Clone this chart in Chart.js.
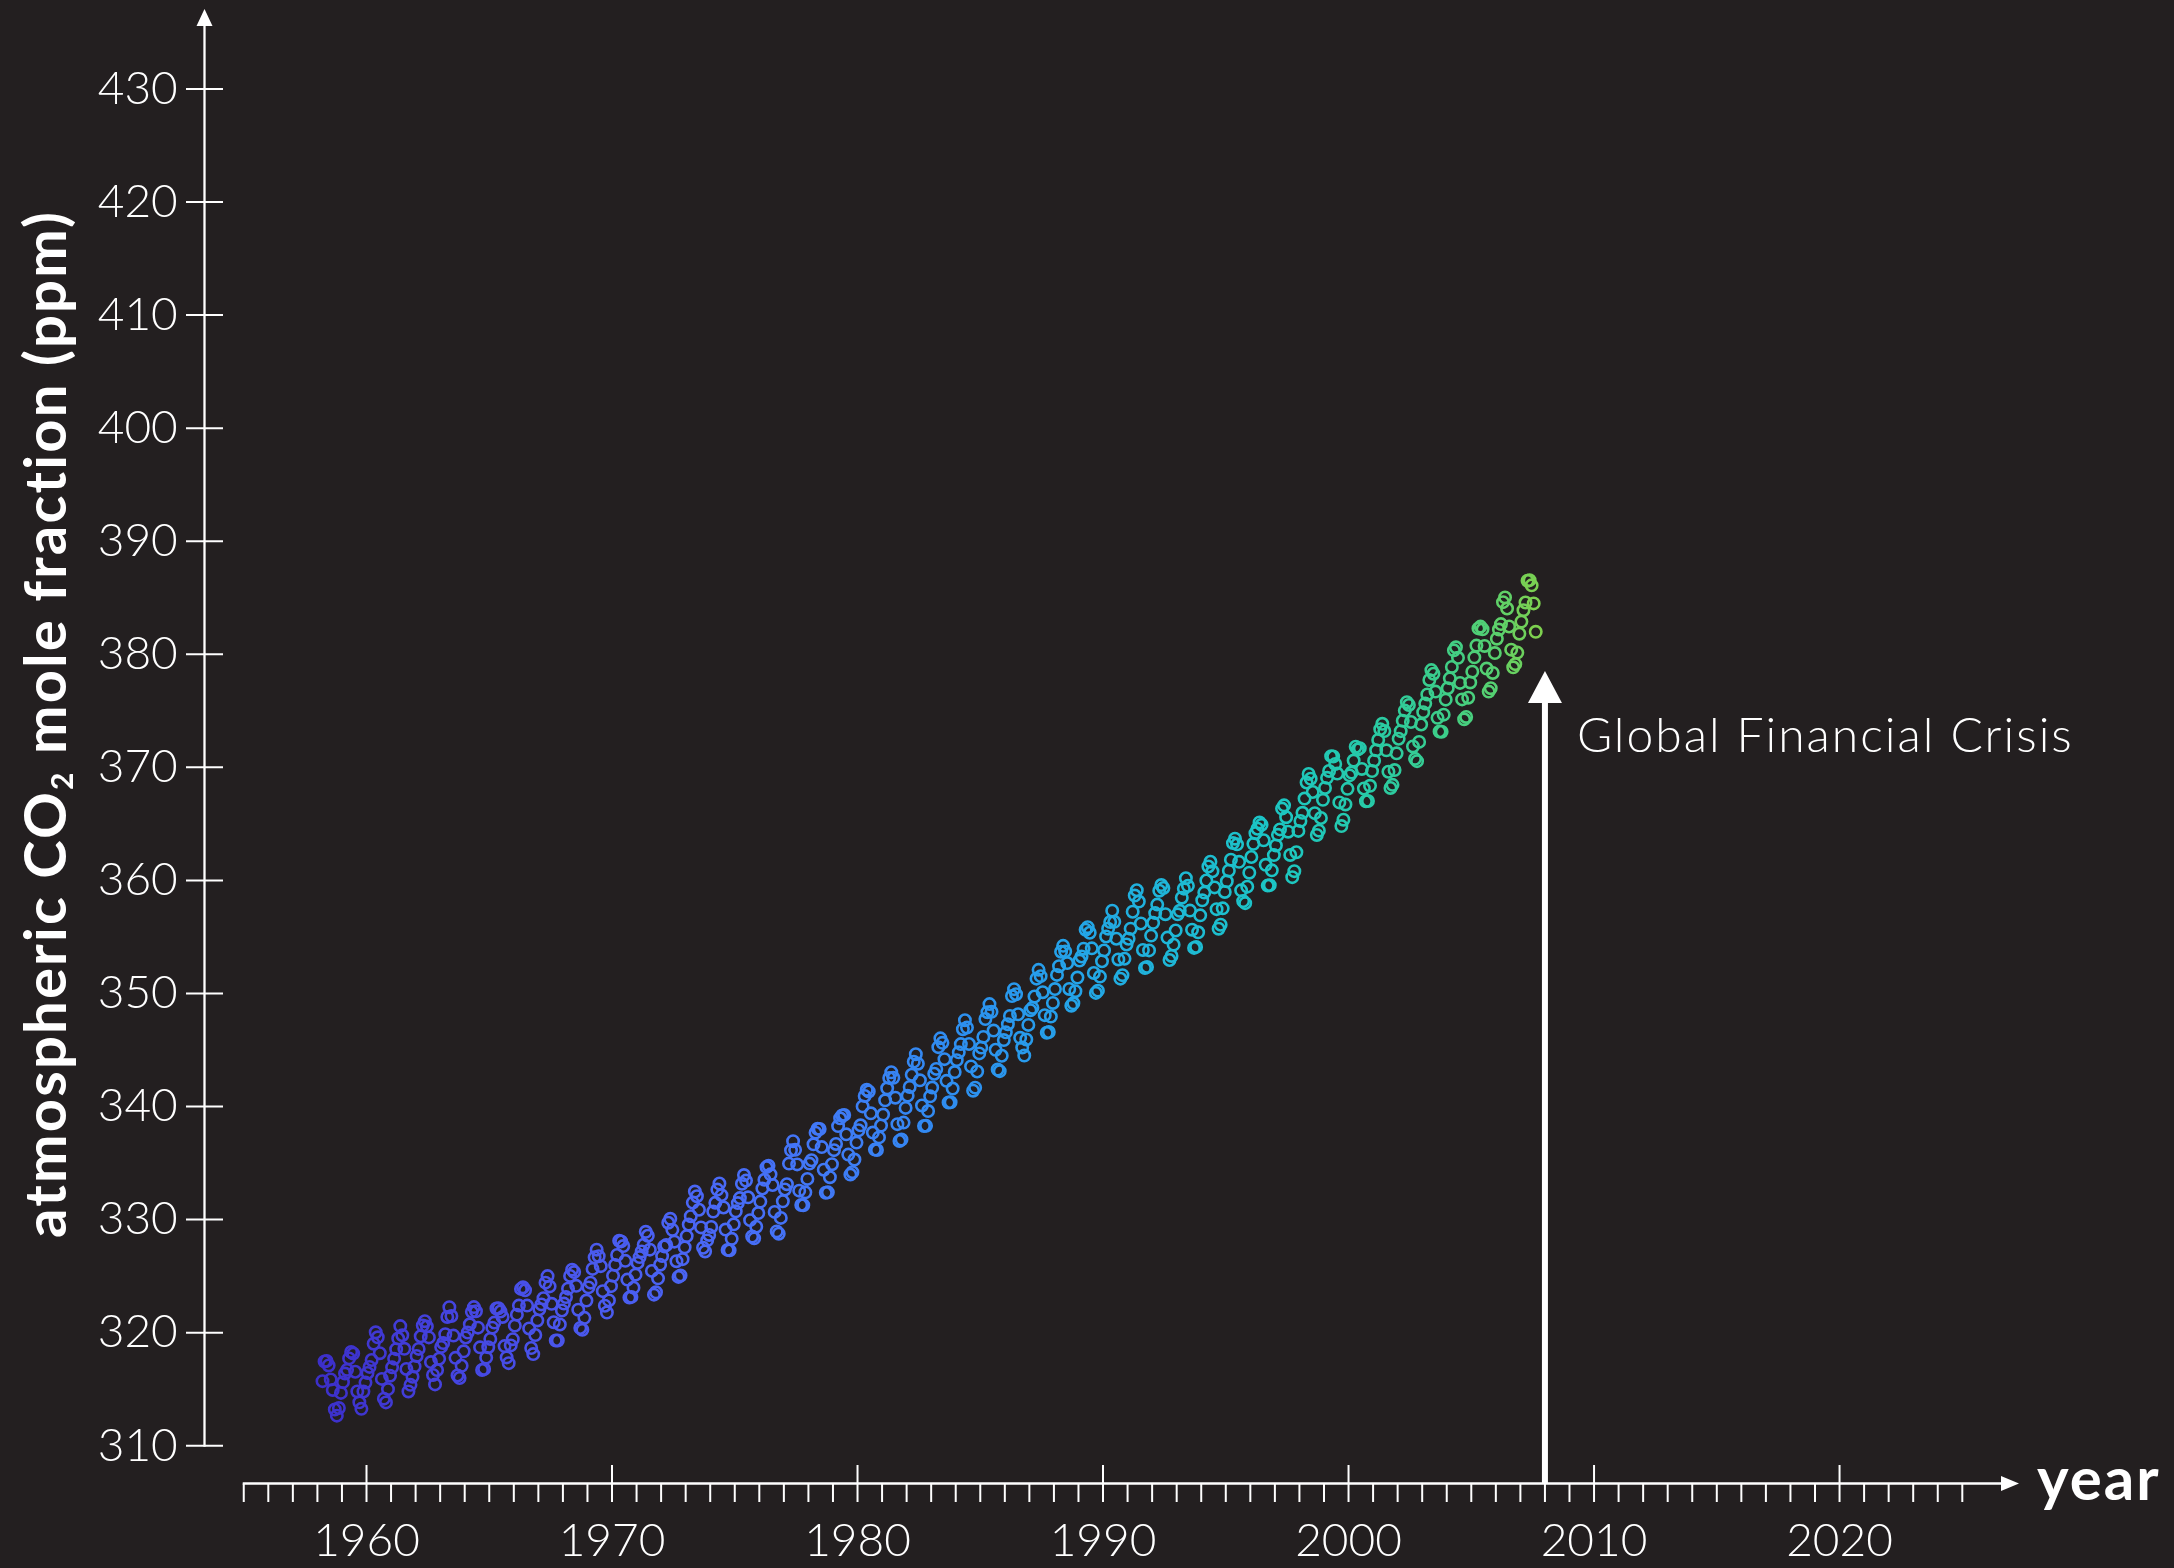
<!DOCTYPE html>
<html>
<head>
<meta charset="utf-8">
<title>Atmospheric CO2 at Mauna Loa</title>
<script src="https://cdn.jsdelivr.net/npm/chart.js@4.4.1/dist/chart.umd.min.js"></script>
<style>
  html, body { margin: 0; padding: 0; background: #231f20; }
  canvas { display: block; }
</style>
</head>
<body>
<canvas id="co2" width="2174" height="1568"></canvas>
<script>
// Monthly mean CO2 mole fraction (ppm), Mauna Loa, starting March 1958
const firstYear = 1958;
const firstMonth = 3;

const co2_1958_1959 = [
  315.71, 317.45, 317.50, 317.10, 315.86, 314.93, 313.20, 312.66, 313.33, 314.67,
  315.62, 316.38, 316.71, 317.72, 318.29, 318.15, 316.54, 314.80, 313.84, 313.26, 314.80, 315.58
];
const co2_1960s = [
  316.43, 316.97, 317.58, 319.02, 320.03, 319.59, 318.18, 315.91, 314.16, 313.83, 315.00, 316.19,
  316.93, 317.70, 318.54, 319.48, 320.58, 319.77, 318.57, 316.79, 314.80, 315.38, 316.10, 317.01,
  317.94, 318.56, 319.68, 320.63, 321.01, 320.55, 319.58, 317.40, 316.26, 315.42, 316.69, 317.69,
  318.74, 319.08, 319.86, 321.39, 322.25, 321.47, 319.74, 317.77, 316.21, 315.99, 317.07, 318.35,
  319.57, 320.01, 320.74, 321.84, 322.26, 321.89, 320.44, 318.70, 316.70, 316.79, 317.79, 318.71,
  319.44, 320.44, 320.89, 322.13, 322.16, 321.87, 321.39, 318.81, 317.81, 317.30, 318.87, 319.42,
  320.62, 321.59, 322.39, 323.87, 324.01, 323.75, 322.39, 320.37, 318.64, 318.10, 319.79, 321.08,
  322.07, 322.50, 323.04, 324.42, 325.00, 324.09, 322.55, 320.92, 319.31, 319.31, 320.72, 321.96,
  322.57, 323.15, 323.89, 325.02, 325.57, 325.36, 324.14, 322.03, 320.41, 320.25, 321.31, 322.84,
  324.00, 324.42, 325.64, 326.66, 327.34, 326.76, 325.88, 323.67, 322.38, 321.78, 322.85, 324.11
];
const co2_1970s = [
  325.03, 325.99, 326.87, 328.13, 328.07, 327.66, 326.35, 324.69, 323.10, 323.16, 323.98, 325.13,
  326.17, 326.68, 327.18, 327.78, 328.92, 328.57, 327.34, 325.46, 323.36, 323.57, 324.80, 326.01,
  326.77, 327.63, 327.75, 329.72, 330.07, 329.09, 328.05, 326.32, 324.93, 325.06, 326.50, 327.55,
  328.54, 329.56, 330.30, 331.50, 332.48, 332.07, 330.87, 329.31, 327.51, 327.18, 328.16, 328.64,
  329.35, 330.71, 331.48, 332.65, 333.19, 332.16, 331.07, 329.12, 327.32, 327.28, 328.30, 329.58,
  330.73, 331.46, 331.90, 333.17, 333.94, 333.45, 331.97, 329.95, 328.50, 328.34, 329.37, 330.58,
  331.59, 332.75, 333.52, 334.64, 334.77, 334.00, 333.06, 330.68, 328.95, 328.75, 330.15, 331.62,
  332.66, 333.13, 334.95, 336.13, 336.93, 336.17, 334.88, 332.56, 331.29, 331.27, 332.41, 333.60,
  334.95, 335.25, 336.66, 337.69, 338.03, 338.01, 336.41, 334.41, 332.37, 332.41, 333.75, 334.90,
  336.14, 336.69, 338.27, 338.96, 339.21, 339.26, 337.54, 335.75, 333.98, 334.19, 335.31, 336.81
];
const co2_1980s = [
  337.90, 338.34, 340.01, 340.93, 341.48, 341.33, 339.40, 337.70, 336.19, 336.15, 337.27, 338.32,
  339.29, 340.55, 341.61, 342.53, 343.03, 342.54, 340.78, 338.44, 336.95, 337.08, 338.58, 339.88,
  340.96, 341.73, 342.81, 343.97, 344.63, 343.79, 342.32, 340.09, 338.28, 338.29, 339.60, 340.90,
  341.68, 342.90, 343.33, 345.25, 346.03, 345.63, 344.19, 342.27, 340.35, 340.38, 341.59, 343.05,
  344.10, 344.79, 345.52, 346.84, 347.63, 346.98, 345.53, 343.55, 341.40, 341.67, 343.10, 344.70,
  345.21, 346.16, 347.74, 348.34, 349.06, 348.38, 346.72, 345.02, 343.27, 343.13, 344.49, 345.88,
  346.56, 347.28, 348.01, 349.77, 350.38, 349.93, 348.16, 346.08, 345.22, 344.51, 345.93, 347.22,
  348.52, 348.73, 349.73, 351.31, 352.09, 351.53, 350.11, 348.08, 346.52, 346.59, 347.96, 349.16,
  350.39, 351.64, 352.41, 353.69, 354.21, 353.72, 352.69, 350.40, 348.92, 349.13, 350.20, 351.41,
  352.91, 353.27, 353.96, 355.64, 355.86, 355.37, 353.99, 351.81, 350.05, 350.25, 351.49, 352.85
];
const co2_1990s = [
  353.80, 355.04, 355.73, 356.32, 357.32, 356.34, 354.84, 353.01, 351.31, 351.62, 353.07, 354.33,
  354.84, 355.73, 357.23, 358.66, 359.13, 358.13, 356.19, 353.85, 352.25, 352.35, 353.81, 355.12,
  356.25, 357.11, 357.86, 359.09, 359.59, 359.33, 357.01, 354.94, 352.96, 353.32, 354.32, 355.57,
  357.00, 357.31, 358.47, 359.27, 360.19, 359.52, 357.33, 355.64, 354.03, 354.12, 355.41, 356.91,
  358.24, 358.92, 359.99, 361.23, 361.65, 360.81, 359.38, 357.46, 355.73, 356.08, 357.53, 358.98,
  359.92, 360.86, 361.83, 363.30, 363.69, 363.19, 361.64, 359.12, 358.17, 357.99, 359.45, 360.68,
  362.07, 363.24, 364.17, 364.57, 365.13, 364.92, 363.55, 361.38, 359.54, 359.58, 360.89, 362.24,
  363.09, 364.03, 364.51, 366.35, 366.64, 365.59, 364.31, 362.25, 360.29, 360.82, 362.49, 364.38,
  365.26, 365.98, 367.24, 368.66, 369.42, 368.99, 367.82, 365.95, 364.02, 364.40, 365.52, 367.13,
  368.18, 369.07, 369.68, 370.99, 370.96, 370.30, 369.45, 366.90, 364.81, 365.37, 366.72, 368.10
];
const co2_2000s = [
  369.29, 369.54, 370.60, 371.82, 371.58, 371.70, 369.86, 368.13, 367.00, 367.03, 368.37, 369.67,
  370.59, 371.51, 372.43, 373.37, 373.85, 373.21, 371.51, 369.61, 368.18, 368.45, 369.76, 371.24,
  372.53, 373.20, 374.12, 375.02, 375.76, 375.52, 374.01, 371.85, 370.75, 370.55, 372.25, 373.79,
  374.88, 375.64, 376.45, 377.73, 378.60, 378.28, 376.70, 374.38, 373.17, 373.15, 374.66, 375.99,
  377.00, 377.87, 378.88, 380.35, 380.62, 379.69, 377.47, 376.01, 374.25, 374.46, 376.16, 377.51,
  378.46, 379.73, 380.77, 382.29, 382.45, 382.21, 380.74, 378.74, 376.70, 377.00, 378.35, 380.11,
  381.38, 382.19, 382.67, 384.61, 385.03, 384.05, 382.46, 380.41, 378.85, 379.13, 380.15, 381.82,
  382.89, 383.90, 384.58, 386.50, 386.56, 386.10, 384.50, 381.99
];

const yTickLabels = [310, 320, 330, 340, 350, 360, 370, 380, 390, 400, 410, 420, 430];
const xTickLabels = [1960, 1970, 1980, 1990, 2000, 2010, 2020];

const crisisYear = 2008;
const crisisLabel = 'Global Financial Crisis';

// ---- styling ----
const FG = '#ffffff';
const FONT = 'Lato, "Open Sans", sans-serif';
const X_MIN = 1955, X_MAX = 2025, Y_MIN = 310, Y_MAX = 430;

// colour ramp along the time axis
const colourStops = [
  [1958, [60, 46, 200]],
  [1963, [68, 66, 222]],
  [1968, [74, 86, 236]],
  [1974, [74, 104, 246]],
  [1979, [64, 122, 246]],
  [1984, [46, 142, 240]],
  [1989, [36, 164, 232]],
  [1993, [30, 184, 214]],
  [1997, [28, 198, 196]],
  [2001, [40, 202, 166]],
  [2004, [62, 206, 136]],
  [2006, [88, 208, 110]],
  [2008, [134, 208, 72]]
];

function colourAt(t) {
  if (t <= colourStops[0][0]) return 'rgb(' + colourStops[0][1].join(',') + ')';
  for (let i = 1; i < colourStops.length; i++) {
    const [t1, c1] = colourStops[i];
    if (t <= t1) {
      const [t0, c0] = colourStops[i - 1];
      const f = (t - t0) / (t1 - t0);
      const c = c0.map((v, k) => Math.round(v + (c1[k] - v) * f));
      return 'rgb(' + c.join(',') + ')';
    }
  }
  return 'rgb(' + colourStops[colourStops.length - 1][1].join(',') + ')';
}

// monthly points positioned at mid-month in decimal years
const monthly = [].concat(co2_1958_1959, co2_1960s, co2_1970s, co2_1980s, co2_1990s, co2_2000s);
const points = monthly.map((v, i) => {
  const m = firstMonth - 1 + i;
  return { x: firstYear + Math.floor(m / 12) + ((m % 12) + 0.5) / 12, y: v };
});

// text helper with optional tracking
function drawText(ctx, str, x, y, spacing) {
  ctx.letterSpacing = (spacing || 0) + 'px';
  ctx.fillText(str, x, y);
  ctx.letterSpacing = '0px';
}

// hand-drawn axes with arrow heads, the annotation arrow and the axis titles
const decorations = {
  id: 'decorations',
  afterDraw(chart) {
    const { ctx, scales: { x, y } } = chart;
    ctx.save();
    ctx.strokeStyle = FG;
    ctx.fillStyle = FG;

    // vertical axis
    const axX = 204.5;
    const yBottom = y.getPixelForValue(Y_MIN);
    ctx.lineWidth = 2.3;
    ctx.beginPath();
    ctx.moveTo(axX, yBottom + 1);
    ctx.lineTo(axX, 22);
    ctx.stroke();
    ctx.beginPath();
    ctx.moveTo(axX, 9);
    ctx.lineTo(axX + 8, 26);
    ctx.lineTo(axX - 8, 26);
    ctx.closePath();
    ctx.fill();
    ctx.lineWidth = 2;
    yTickLabels.forEach(v => {
      const py = y.getPixelForValue(v);
      ctx.beginPath();
      ctx.moveTo(186, py);
      ctx.lineTo(223, py);
      ctx.stroke();
    });

    // horizontal axis
    const axY = 1483.5;
    const xLeft = x.getPixelForValue(X_MIN);
    ctx.lineWidth = 2.3;
    ctx.beginPath();
    ctx.moveTo(xLeft - 1, axY);
    ctx.lineTo(2004, axY);
    ctx.stroke();
    ctx.beginPath();
    ctx.moveTo(2019, axY);
    ctx.lineTo(2001, axY - 7.5);
    ctx.lineTo(2001, axY + 7.5);
    ctx.closePath();
    ctx.fill();
    ctx.lineWidth = 2;
    for (let yr = X_MIN; yr <= X_MAX; yr++) {
      const px = x.getPixelForValue(yr);
      ctx.beginPath();
      ctx.moveTo(px, yr % 10 === 0 ? 1465 : axY);
      ctx.lineTo(px, 1502);
      ctx.stroke();
    }

    // axis titles
    ctx.textBaseline = 'alphabetic';
    ctx.textAlign = 'left';
    ctx.font = 'bold 60px ' + FONT;
    drawText(ctx, 'year', 2037, 1500, 2);

    ctx.save();
    ctx.translate(66, 724);
    ctx.rotate(-Math.PI / 2);
    const track = 2.2;
    const big = 'bold 58px ' + FONT, small = 'bold 30px ' + FONT;
    const p1 = 'atmospheric CO', p2 = '2', p3 = ' mole fraction (ppm)';
    ctx.letterSpacing = track + 'px';
    ctx.font = big; const w1 = ctx.measureText(p1).width, w3 = ctx.measureText(p3).width;
    ctx.font = small; const w2 = ctx.measureText(p2).width;
    let sx = -(w1 + w2 + w3) / 2;
    ctx.font = big; ctx.fillText(p1, sx, 0); sx += w1;
    ctx.font = small; ctx.fillText(p2, sx, 7); sx += w2;
    ctx.font = big; ctx.fillText(p3, sx, 0);
    ctx.letterSpacing = '0px';
    ctx.restore();

    // annotation arrow
    const ax = x.getPixelForValue(crisisYear);
    ctx.lineWidth = 6;
    ctx.beginPath();
    ctx.moveTo(ax, axY);
    ctx.lineTo(ax, 700);
    ctx.stroke();
    ctx.beginPath();
    ctx.moveTo(ax, 671);
    ctx.lineTo(ax + 17, 703);
    ctx.lineTo(ax - 17, 703);
    ctx.closePath();
    ctx.fill();
    ctx.font = '300 48px ' + FONT;
    ctx.textBaseline = 'middle';
    drawText(ctx, crisisLabel, ax + 32, 737, 2);

    ctx.restore();
  }
};

new Chart(document.getElementById('co2'), {
  type: 'scatter',
  data: {
    datasets: [{
      data: points,
      showLine: false,
      pointStyle: 'circle',
      pointRadius: 5.7,
      pointBorderWidth: 2.6,
      pointBackgroundColor: 'rgba(0,0,0,0)',
      pointBorderColor: ctx => colourAt(ctx.raw ? ctx.raw.x : X_MIN)
    }]
  },
  options: {
    responsive: false,
    animation: false,
    devicePixelRatio: 1,
    layout: { padding: { left: 0, top: 85, right: 2174 - 1962.3, bottom: 0 } },
    plugins: { legend: { display: false }, tooltip: { enabled: false } },
    scales: {
      x: {
        type: 'linear',
        min: X_MIN,
        max: X_MAX,
        grid: { display: false, drawTicks: false },
        border: { display: false },
        ticks: {
          color: FG,
          font: { family: FONT, size: 46, weight: '300', lineHeight: 1 },
          padding: 72,
          maxRotation: 0,
          autoSkip: false,
          callback: v => String(v)
        },
        afterBuildTicks: s => { s.ticks = xTickLabels.map(v => ({ value: v })); },
        afterFit: s => { s.height = 1568 - 1445.7; }
      },
      y: {
        type: 'linear',
        min: Y_MIN,
        max: Y_MAX,
        grid: { display: false, drawTicks: false },
        border: { display: false },
        ticks: {
          color: FG,
          font: { family: FONT, size: 46, weight: '300', lineHeight: 1 },
          padding: 66,
          autoSkip: false,
          callback: v => String(v)
        },
        afterBuildTicks: s => { s.ticks = yTickLabels.map(v => ({ value: v })); },
        afterFit: s => { s.width = 243.75; }
      }
    }
  },
  plugins: [decorations]
});
</script>
</body>
</html>
